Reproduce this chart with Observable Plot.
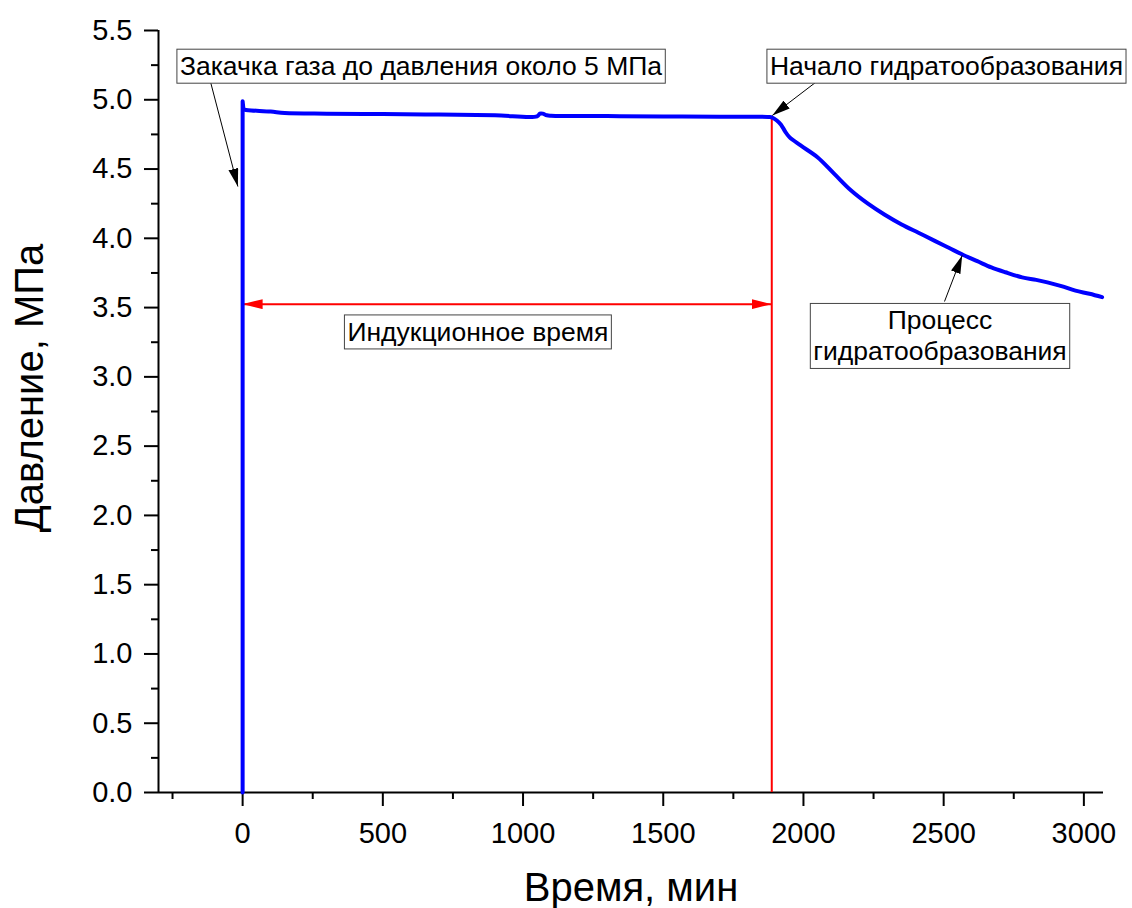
<!DOCTYPE html>
<html>
<head>
<meta charset="utf-8">
<script src="https://cdn.jsdelivr.net/npm/d3@7"></script>
<script src="https://cdn.jsdelivr.net/npm/@observablehq/plot@0.6"></script>
<style>
  html, body { margin: 0; padding: 0; background: #fff; }
</style>
</head>
<body>
<script>
// ---- data ----
const time = [0, 0, 3, 20, 100, 150, 300, 500, 700, 900, 1050, 1060, 1070, 1085, 1100, 1300, 1500, 1700, 1880, 1890, 1905, 1920, 1935, 1950, 1990, 2050, 2110, 2170, 2230, 2290, 2350, 2410, 2470, 2520, 2570, 2620, 2670, 2720, 2780, 2830, 2870, 2920, 2970, 3020, 3065];
const pressure = [0, 4.99, 4.93, 4.925, 4.915, 4.905, 4.9, 4.897, 4.893, 4.888, 4.88, 4.9, 4.9, 4.888, 4.885, 4.882, 4.88, 4.877, 4.875, 4.87, 4.85, 4.82, 4.77, 4.73, 4.67, 4.585, 4.465, 4.345, 4.25, 4.17, 4.10, 4.04, 3.98, 3.93, 3.88, 3.835, 3.79, 3.755, 3.718, 3.70, 3.682, 3.655, 3.622, 3.60, 3.575];

const xMajor = [0, 500, 1000, 1500, 2000, 2500, 3000];
const xMinor = [-250, 250, 750, 1250, 1750, 2250, 2750];
const yMajor = [0, 0.5, 1, 1.5, 2, 2.5, 3, 3.5, 4, 4.5, 5, 5.5];
const yMinor = [0.25, 0.75, 1.25, 1.75, 2.25, 2.75, 3.25, 3.75, 4.25, 4.75, 5.25];

const inductionStart = 0;
const inductionEnd = 1887;
const inductionLevel = 3.525;
const nucleationPressure = 4.875;

const noteText = ["Закачка газа до давления около 5 МПа", "Начало гидратообразования", "Индукционное время", "Процесс\nгидратообразования"];
const noteX = [636, 2510, 839, 2487];
const noteY = [5.249, 5.249, 3.331, 3.302];

const calloutX1 = [-114, 2043, 2503];
const calloutY1 = [5.125, 5.125, 3.544];
const calloutX2 = [-17, 1889, 2566];
const calloutY2 = [4.374, 4.887, 3.876];

const xTitle = "Время, мин";
const yTitle = "Давление, МПа";

// ---- tables built from the arrays ----
const series = time.map((t, i) => ({t, p: pressure[i]}));
const fillPart = series.slice(0, 3);   // gas injection spike (sharp)
const runPart = series.slice(2);       // rest of the run (smooth)
const notes = noteText.map((s, i) => ({s, x: noteX[i], y: noteY[i]}));
const callouts = calloutX1.map((x1, i) => ({x1, y1: calloutY1[i], x2: calloutX2[i], y2: calloutY2[i]}));
const induction = [{x1: inductionStart, x2: inductionEnd, y: inductionLevel}];

const font = "'Liberation Sans', Arial, Helvetica, sans-serif";
const noteSize = 26.5;

const chart = Plot.plot({
  width: 1132,
  height: 908,
  marginLeft: 158,
  marginRight: 29,
  marginTop: 30,
  marginBottom: 116,
  x: {domain: [-300, 3070]},
  y: {domain: [0, 5.5]},
  style: {fontFamily: font, fontSize: "24px", color: "black", background: "white"},
  marks: [
    Plot.axisX({ticks: xMajor, tickSize: 14, tickPadding: 16, tickFormat: d => String(d), label: null, strokeWidth: 2, fontSize: 29}),
    Plot.axisX({ticks: xMinor, tickSize: 7, tickFormat: () => "", label: null, strokeWidth: 2}),
    Plot.axisY({ticks: yMajor, tickSize: 14, tickPadding: 12, tickFormat: d3.format(".1f"), label: null, strokeWidth: 2, fontSize: 29}),
    Plot.axisY({ticks: yMinor, tickSize: 7, tickFormat: () => "", label: null, strokeWidth: 2}),
    Plot.ruleY([0], {stroke: "black", strokeWidth: 2}),
    Plot.ruleX([-300], {stroke: "black", strokeWidth: 2}),
    Plot.ruleX([inductionEnd], {y1: 0, y2: nucleationPressure, stroke: "#ff0000", strokeWidth: 2}),
    Plot.link(induction, {x1: "x1", x2: "x2", y1: "y", y2: "y", stroke: "#ff0000", strokeWidth: 2}),
    Plot.line(fillPart, {x: "t", y: "p", stroke: "#0000ff", strokeWidth: 4, strokeLinejoin: "round"}),
    Plot.line(runPart, {x: "t", y: "p", stroke: "#0000ff", strokeWidth: 4, strokeLinejoin: "round", curve: "catmull-rom"}),
    Plot.link(callouts, {x1: "x1", y1: "y1", x2: "x2", y2: "y2", stroke: "black", strokeWidth: 1}),
    Plot.text(notes, {x: "x", y: "y", text: "s", fontSize: noteSize, lineHeight: 1.17, textAnchor: "middle", lineAnchor: "middle", fill: "black"}),
    Plot.text([xTitle], {text: d => d, frameAnchor: "bottom", dy: 96, fontSize: 40, textAnchor: "middle", lineAnchor: "middle", fill: "black"}),
    Plot.text([yTitle], {text: d => d, frameAnchor: "left", rotate: -90, dx: -128, dy: -23.5, fontSize: 40, textAnchor: "middle", lineAnchor: "middle", fill: "black"})
  ]
});

document.body.append(chart);

// ---- decorations: arrowheads and annotation boxes ----
const svg = d3.select(chart.tagName.toLowerCase() === "svg" ? chart : chart.querySelector("svg"));
const defs = svg.insert("defs", ":first-child");
defs.append("marker")
  .attr("id", "ah-black").attr("viewBox", "0 0 18 10").attr("refX", 18).attr("refY", 5)
  .attr("markerWidth", 18).attr("markerHeight", 10).attr("markerUnits", "userSpaceOnUse").attr("orient", "auto")
  .append("path").attr("d", "M0,0L18,5L0,10Z").attr("fill", "black");
defs.append("marker")
  .attr("id", "ah-red").attr("viewBox", "0 0 20 10").attr("refX", 20).attr("refY", 5)
  .attr("markerWidth", 20).attr("markerHeight", 10).attr("markerUnits", "userSpaceOnUse").attr("orient", "auto-start-reverse")
  .append("path").attr("d", "M0,0L20,5L0,10Z").attr("fill", "#ff0000");

svg.selectAll('g[aria-label="link"]').each(function() {
  const g = d3.select(this);
  const s = (g.attr("stroke") || "").toLowerCase();
  if (s === "black") g.selectAll("path").attr("marker-end", "url(#ah-black)");
  else if (s === "#ff0000" || s === "red") g.selectAll("path").attr("marker-start", "url(#ah-red)").attr("marker-end", "url(#ah-red)");
});

svg.selectAll('g[aria-label="text"]').filter(function() {
  return +this.getAttribute("font-size") === noteSize;
}).selectAll("text").each(function() {
  const bb = this.getBBox();
  const padX = 3, padY = 2;
  d3.select(this.parentNode).insert("rect", () => this)
    .attr("x", bb.x - padX).attr("y", bb.y - padY)
    .attr("width", bb.width + 2 * padX).attr("height", bb.height + 2 * padY)
    .attr("transform", this.getAttribute("transform"))
    .attr("fill", "white").attr("stroke", "#444").attr("stroke-width", 1);
});
</script>
</body>
</html>
